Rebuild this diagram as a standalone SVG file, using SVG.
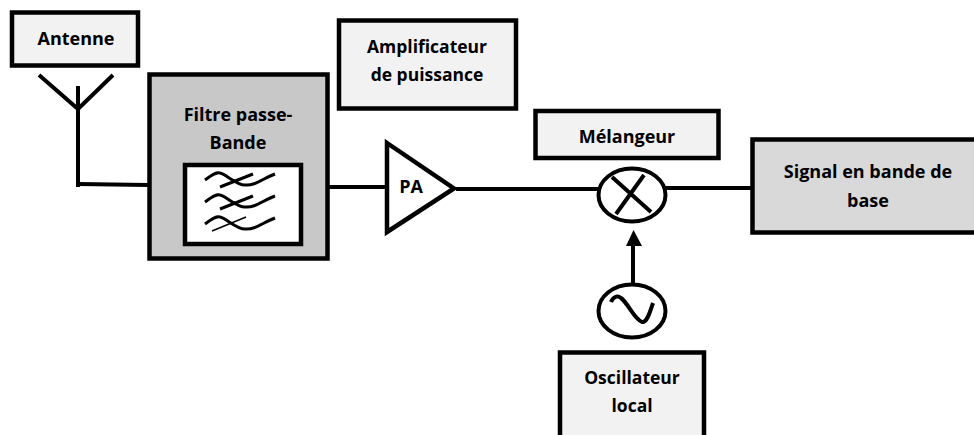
<svg xmlns="http://www.w3.org/2000/svg" width="974" height="435" viewBox="0 0 974 435">
<style>
.b{stroke:#000;stroke-width:4.5}
.l{fill:#f2f2f2}
.t{font-family:"Open Sans","Noto Sans",sans-serif;font-weight:700;font-size:18px;fill:#000;text-anchor:middle}
.s{font-size:17.500px}
.w{fill:none;stroke:#000;stroke-width:4}
.c{fill:none;stroke:#000;stroke-width:3}
</style>
<rect width="974" height="435" fill="#fff"/>
<g id="connectors">
<path class="w" stroke-width="4.500" d="M78 86V187"/>
<path class="w" d="M78 184L148 185"/>
<path class="w" d="M302 187H386"/>
<path class="w" d="M456 189H600"/>
<path class="w" d="M665 188H751"/>
<path class="w" d="M633 283V245"/>
<path d="M626 246L633.500 230L642 246Z" fill="#000"/>
</g>
<g id="antenne"><rect class="b l" x="12" y="12.500" width="126" height="53"/><text class="t" x="76" y="45">Antenne</text></g>
<g id="antenne-symbol"><path class="w" d="M39 75L78 109L113 75"/></g>
<g id="filtre">
<rect class="b" fill="#c8c8c8" x="149.500" y="74.500" width="178" height="184"/>
<text class="t" x="238" y="121">Filtre passe-</text><text class="t" x="238" y="149">Bande</text>
<rect class="b" fill="#fff" x="185" y="165" width="116" height="79"/>
<path class="c" d="M205 180C212 175 216 172 220 173C226 174 236 185 245 185C255 186 262 179 275 174M220 187L253 174"/>
<path class="c" d="M205 202C212 197 216 194 220 195C226 196 236 207 245 207C255 208 262 201 275 196M220 209L253 196"/>
<path class="c" d="M205 224C212 219 216 216 220 217C226 218 236 229 245 229C255 230 262 223 275 218"/>
<path fill="none" stroke="#000" stroke-width="1.500" d="M212 231L246 217"/>
</g>
<g id="amplificateur"><rect class="b l" x="339" y="20.500" width="177" height="88"/><text class="t s" x="427" y="53">Amplificateur</text><text class="t s" x="427" y="81">de puissance</text></g>
<g id="pa"><path d="M387 143L454 188.500L387 232Z" fill="#fff" stroke="#000" stroke-width="4.500"/><text class="t" x="411" y="193">PA</text></g>
<g id="melangeur"><rect class="b l" x="535.500" y="111" width="183" height="47"/><text class="t" x="627" y="143">Mélangeur</text></g>
<g id="mixer"><ellipse cx="632" cy="195" rx="33.500" ry="26.500" fill="#fff" stroke="#000" stroke-width="4"/><path class="w" d="M612 177L651 212M644 175L616 214"/></g>
<g id="signal"><path class="b" fill="#d9d9d9" d="M975 139.500H752.500V232.500H975"/><text class="t" x="868" y="178">Signal en bande de</text><text class="t" x="868" y="207">base</text></g>
<g id="oscillateur-symbol"><ellipse cx="632" cy="311" rx="33.500" ry="26.500" fill="#fff" stroke="#000" stroke-width="4"/><path class="w" d="M611 302C613 297 617 295 621 298C628 303 634 319 642 322C647 323 650 312 653 303"/></g>
<g id="oscillateur"><path class="b l" d="M560 436V352.500H704V436"/><text class="t s" x="632" y="384">Oscillateur</text><text class="t s" x="632" y="412">local</text></g>
</svg>
